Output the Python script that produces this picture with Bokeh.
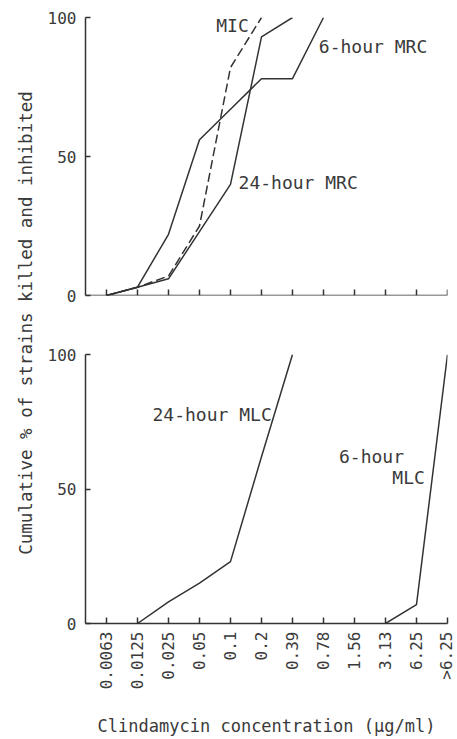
import math
from bokeh.plotting import figure
from bokeh.layouts import row, column
from bokeh.models import Range1d, FixedTicker, Label, Span
from bokeh.embed import file_html
from bokeh.resources import INLINE

# ---- data ----
categories = ["0.0063", "0.0125", "0.025", "0.05", "0.1", "0.2", "0.39",
              "0.78", "1.56", "3.13", "6.25", ">6.25"]
y_ticks = [0, 50, 100]

mic_conc = ["0.0063", "0.0125", "0.025", "0.05", "0.1", "0.2"]
mic_pct = [0, 3, 7, 25, 82, 100]

mrc6_conc = ["0.0063", "0.0125", "0.025", "0.05", "0.1", "0.2", "0.39", "0.78"]
mrc6_pct = [0, 3, 22, 56, 67, 78, 78, 100]

mrc24_conc = ["0.0063", "0.0125", "0.025", "0.05", "0.1", "0.2", "0.39"]
mrc24_pct = [0, 3, 6, 23, 40, 93, 100]

mlc24_conc = ["0.0125", "0.025", "0.05", "0.1", "0.2", "0.39"]
mlc24_pct = [0, 8, 15, 23, 62, 100]

mlc6_conc = ["3.13", "6.25", ">6.25"]
mlc6_pct = [0, 7, 100]

ylabel = "Cumulative % of strains killed and inhibited"
xlabel = "Clindamycin concentration (\u00b5g/ml)"

FONT = "DejaVu Sans Mono"
INK = "#333333"
TXT = "#3a3a3a"
X0 = -0.677


def xs(concs):
    return [categories.index(c) for c in concs]


def style_yaxis(p):
    ya = p.yaxis[0]
    ya.ticker = FixedTicker(ticks=y_ticks)
    ya.minor_tick_line_color = None
    ya.major_tick_in = 5
    ya.major_tick_out = 0
    ya.axis_line_color = INK
    ya.axis_line_width = 1.5
    ya.major_tick_line_color = INK
    ya.major_tick_line_width = 1.5
    ya.major_label_text_font = FONT
    ya.major_label_text_font_size = "16px"
    ya.major_label_text_color = TXT
    ya.major_label_standoff = 9


def make_fig(height, b_top, b_bottom):
    p = figure(width=417, height=height, output_backend="svg",
               toolbar_location=None,
               x_range=Range1d(X0, 11), y_range=Range1d(0, 100),
               min_border_left=47, min_border_right=8,
               min_border_top=b_top, min_border_bottom=b_bottom)
    p.outline_line_color = None
    p.grid.visible = False
    p.background_fill_color = "white"
    p.border_fill_color = "white"
    style_yaxis(p)
    return p


def add_label(p, x, y, text, align):
    p.add_layout(Label(x=x, y=y, text=text, text_font=FONT,
                       text_font_size="18px", text_color=TXT,
                       text_align=align, text_baseline="middle"))


# ---- top panel ----
top = make_fig(315, 17, 20)
top.xaxis.visible = False
top.add_layout(Span(location=0, dimension="width", line_color=INK, line_width=1.5))
top.ray(x=xs(categories), y=[0] * len(categories), length=6, length_units="screen",
        angle=math.pi / 2, line_color=INK, line_width=1.5)
top.line(xs(mic_conc), mic_pct, line_color=INK, line_width=1.5, line_dash="9 4")
top.line(xs(mrc6_conc), mrc6_pct, line_color=INK, line_width=1.5)
top.line(xs(mrc24_conc), mrc24_pct, line_color=INK, line_width=1.5)
add_label(top, 4.59, 97.3, "MIC", "right")
add_label(top, 6.85, 89.4, "6-hour MRC", "left")
add_label(top, 4.26, 40.7, "24-hour MRC", "left")

# ---- bottom panel ----
bottom = make_fig(424, 39, 107)
xa = bottom.xaxis[0]
xa.ticker = FixedTicker(ticks=list(range(len(categories))))
xa.minor_tick_line_color = None
xa.major_tick_in = 6
xa.major_tick_out = 0
xa.axis_line_color = INK
xa.axis_line_width = 1.5
xa.major_tick_line_color = INK
xa.major_tick_line_width = 1.5
xa.major_label_overrides = {i: c for i, c in enumerate(categories)}
xa.major_label_orientation = math.pi / 2
xa.major_label_text_font = FONT
xa.major_label_text_font_size = "16px"
xa.major_label_text_color = TXT
xa.major_label_standoff = 8
xa.axis_label = xlabel
xa.axis_label_text_font = FONT
xa.axis_label_text_font_size = "17px"
xa.axis_label_text_font_style = "normal"
xa.axis_label_text_color = TXT
xa.axis_label_standoff = 24

bottom.line(xs(mlc24_conc), mlc24_pct, line_color=INK, line_width=1.5)
bottom.line(xs(mlc6_conc), mlc6_pct, line_color=INK, line_width=1.5)
add_label(bottom, 5.33, 77.8, "24-hour MLC", "right")
add_label(bottom, 7.5, 61.9, "6-hour", "left")
add_label(bottom, 10.27, 54.1, "MLC", "right")

# ---- y label strip ----
lab = figure(width=38, height=739, output_backend="svg", toolbar_location=None,
             x_range=Range1d(0, 38), y_range=Range1d(0, 739),
             x_axis_type=None, y_axis_type=None, min_border=0)
lab.outline_line_color = None
lab.grid.visible = False
lab.add_layout(Label(x=25, y=416.5, text=ylabel, text_font=FONT,
                     text_font_size="17.5px", text_color=TXT, angle=math.pi / 2,
                     text_align="center", text_baseline="middle"))

layout = row(lab, column(top, bottom))
open("out.html", "w").write(file_html(layout, INLINE))
